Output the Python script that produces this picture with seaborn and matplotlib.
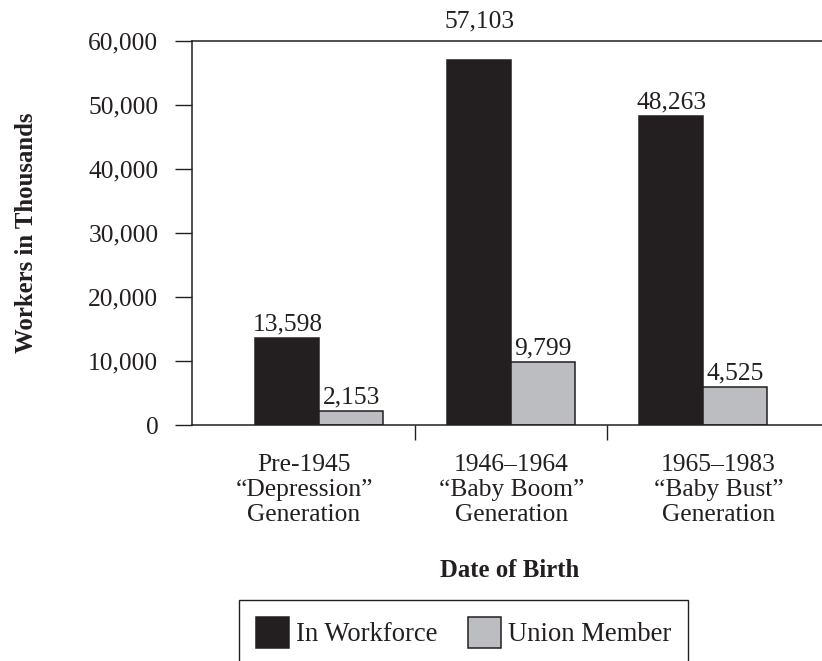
import numpy as np
import pandas as pd
import matplotlib
matplotlib.use("Agg")
import matplotlib.pyplot as plt
from matplotlib.patches import Patch
import seaborn as sns

# ---------------- data ----------------
generations = [
    "Pre-1945\n\u201cDepression\u201d\nGeneration",
    "1946\u20131964\n\u201cBaby Boom\u201d\nGeneration",
    "1965\u20131983\n\u201cBaby Bust\u201d\nGeneration",
]
series = ["In Workforce", "Union Member"]
in_workforce = [13598, 57103, 48263]          # printed values
union_member = [2153, 9799, 4525]             # printed values
# bar heights as drawn in the reference (last union bar is drawn taller than its label)
in_workforce_drawn = [13598, 57103, 48263]
union_member_drawn = [2153, 9799, 5900]
y_ticks = [0, 10000, 20000, 30000, 40000, 50000, 60000]

# ---------------- style ----------------
sns.set_style("ticks")
plt.rcParams["font.family"] = ["Liberation Serif", "DejaVu Serif"]
BLACK = "#231f20"
GRAY = "#bcbdc0"
FS = 18.4
FSB = 17.8
plt.rcParams["text.color"] = BLACK

W, H = 822, 661
fig = plt.figure(figsize=(W / 100, H / 100), dpi=100)
ax = fig.add_axes([192 / W, 1 - 425 / H, 630 / W, 384 / H])

df = pd.DataFrame({
    "generation": generations * 2,
    "series": [series[0]] * 3 + [series[1]] * 3,
    "height": in_workforce_drawn + union_member_drawn,
})

sns.barplot(data=df, x="generation", y="height", hue="series",
            order=generations, hue_order=series, palette=[BLACK, GRAY],
            width=2 / 3, gap=0, saturation=1, edgecolor=BLACK, linewidth=1.1,
            legend=False, ax=ax)

ax.set_ylim(0, 60000)
ax.set_xlim(-0.664, 2.62)

# value labels
for cont, vals in zip(ax.containers, [in_workforce, union_member]):
    anns = ax.bar_label(cont, labels=[f"{v:,}" for v in vals], padding=2,
                        fontsize=FS, color=BLACK)
    ymax = ax.get_ylim()[1]
    for a, v in zip(anns, vals):
        if v > 0.9 * ymax:  # would collide with the top frame: put above it
            a.xy = (a.xy[0], ymax)
            a.xyann = (0, 6)

# axes styling
ax.set_yticks(y_ticks, [f"{v:,}" for v in y_ticks])
ax.tick_params(axis="y", length=12.2, width=1.0, pad=12, labelsize=FS,
               color=BLACK, labelcolor=BLACK)
label_pos = [1 + (i - 1) * 1.08 for i in range(len(generations))]
ax.set_xticks(label_pos, generations)
ax.set_xticks([0.5, 1.5], minor=True)
ax.tick_params(axis="x", which="major", length=0, pad=21, labelsize=FS,
               labelcolor=BLACK)
ax.tick_params(axis="x", which="minor", length=10.8, width=1.0, color=BLACK)
for t in ax.get_xticklabels():
    t.set_linespacing(1.17)

for s in ["left", "bottom", "top"]:
    ax.spines[s].set_linewidth(1.1)
    ax.spines[s].set_color(BLACK)
ax.spines["right"].set_visible(False)

ax.set_xlabel("Date of Birth", fontsize=FSB, fontweight="bold", color=BLACK)
ax.xaxis.set_label_coords(0.5048, -0.349)
ax.set_ylabel("Workers in Thousands", fontsize=FSB, fontweight="bold", color=BLACK)
ax.yaxis.set_label_coords(-0.2437, 0.5)

handles = [Patch(facecolor=c, edgecolor=BLACK, linewidth=1.1, label=s)
           for c, s in zip([BLACK, GRAY], series)]
leg = ax.legend(handles=handles, loc="upper left",
                bbox_to_anchor=(239 / W, 1 - 600 / H), bbox_transform=fig.transFigure,
                borderaxespad=0, ncol=2, frameon=True, fancybox=False,
                edgecolor=BLACK, framealpha=1, borderpad=0.62,
                handlelength=1.25, handleheight=1.45, handletextpad=0.26,
                columnspacing=1.15, fontsize=19.2)
leg.get_frame().set_linewidth(1.0)

fig.savefig("out.png", dpi=100)
